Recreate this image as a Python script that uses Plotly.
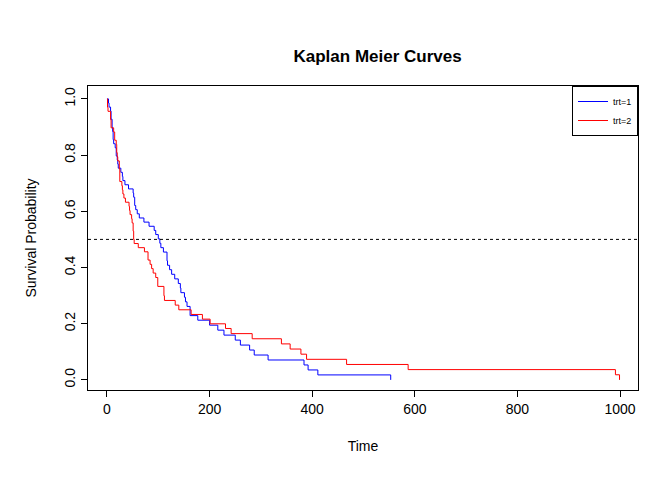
import plotly.graph_objects as go

# veteran data: survival time and status (1=death, 0=censored)
time1 = [72,411,228,126,118,10,82,110,314,100,42,8,144,25,11,30,384,4,54,13,123,97,153,59,117,16,151,22,56,21,18,139,20,31,52,287,18,51,122,27,54,7,63,392,10,8,92,35,117,132,12,162,3,95,177,162,216,553,278,12,260,200,156,182,143,105,103,250,100]
status1 = [1,1,1,1,1,1,1,1,1,0,1,1,1,0,1,1,1,1,1,1,0,0,1,1,1,1,1,1,1,1,1,1,1,1,1,1,1,1,1,1,1,1,1,1,1,1,1,1,1,1,1,1,1,1,1,1,1,1,1,1,1,1,1,0,1,1,1,1,1]
time2 = [999,112,87,231,242,991,111,1,587,389,33,25,357,467,201,1,30,44,283,15,25,103,21,13,87,2,20,7,24,99,8,99,61,25,95,80,51,29,24,18,83,31,51,90,52,73,8,36,48,7,140,186,84,19,45,80,52,164,19,53,15,43,340,133,111,231,378,49]
status2 = [1,1,0,0,1,1,1,1,1,1,1,1,1,1,1,1,1,1,1,1,1,0,1,1,1,1,1,1,1,1,1,1,1,1,1,1,1,1,1,1,0,1,1,1,1,1,1,1,1,1,1,1,1,1,1,1,1,1,1,1,1,1,1,1,1,1,1,1]


def km(times, status):
    xs, ys = [0], [1.0]
    s = 1.0
    n = len(times)
    for t in sorted(set(times)):
        d = sum(1 for a, b in zip(times, status) if a == t and b == 1)
        c = sum(1 for a in times if a == t)
        if d:
            s *= (n - d) / n
            xs.append(t)
            ys.append(s)
        n -= c
    if max(times) > xs[-1]:
        xs.append(max(times))
        ys.append(s)
    return xs, ys


fig = go.Figure()
for (t, st, col, name) in [(time1, status1, "blue", "trt=1"), (time2, status2, "red", "trt=2")]:
    x, y = km(t, st)
    fig.add_trace(go.Scatter(x=x, y=y, mode="lines", line=dict(color=col, width=1, shape="hv"), name=name))

fig.add_shape(type="line", xref="paper", x0=0, x1=1, y0=0.5, y1=0.5,
              line=dict(color="black", width=1, dash="dot"))

ax = dict(showgrid=False, zeroline=False, showline=True, mirror=True, linecolor="black",
          ticks="outside", ticklen=6, tickcolor="black", tickfont=dict(size=14, color="black"),
          automargin=False)
fig.update_layout(
    width=672, height=480, plot_bgcolor="white", paper_bgcolor="white",
    font=dict(family="Liberation Sans, Arial", color="black"),
    margin=dict(l=80, r=42, t=78, b=98),
    title=dict(text="<b>Kaplan Meier Curves</b>", x=0.55, xanchor="center", y=0.912, font=dict(size=17)),
    xaxis=dict(ax, range=[-37, 1035], tickvals=[0, 200, 400, 600, 800, 1000],
               title=dict(text="Time", font=dict(size=14), standoff=25)),
    yaxis=dict(ax, range=[-0.036, 1.046], tickvals=[0, 0.2, 0.4, 0.6, 0.8, 1.0],
               tickformat=".1f", tickangle=-90,
               title=dict(text="Survival Probability", font=dict(size=14), standoff=22)),
    legend=dict(x=1, y=1, xanchor="right", yanchor="top", bordercolor="black", borderwidth=1,
                font=dict(size=9), tracegroupgap=0, itemwidth=30, bgcolor="white",
                tracegroupgap_=None) if False else dict(
                x=1, y=1, xanchor="right", yanchor="top", bordercolor="black", borderwidth=1,
                font=dict(size=9), tracegroupgap=0, itemwidth=30, bgcolor="white"),
)
fig.write_html("out.html")
